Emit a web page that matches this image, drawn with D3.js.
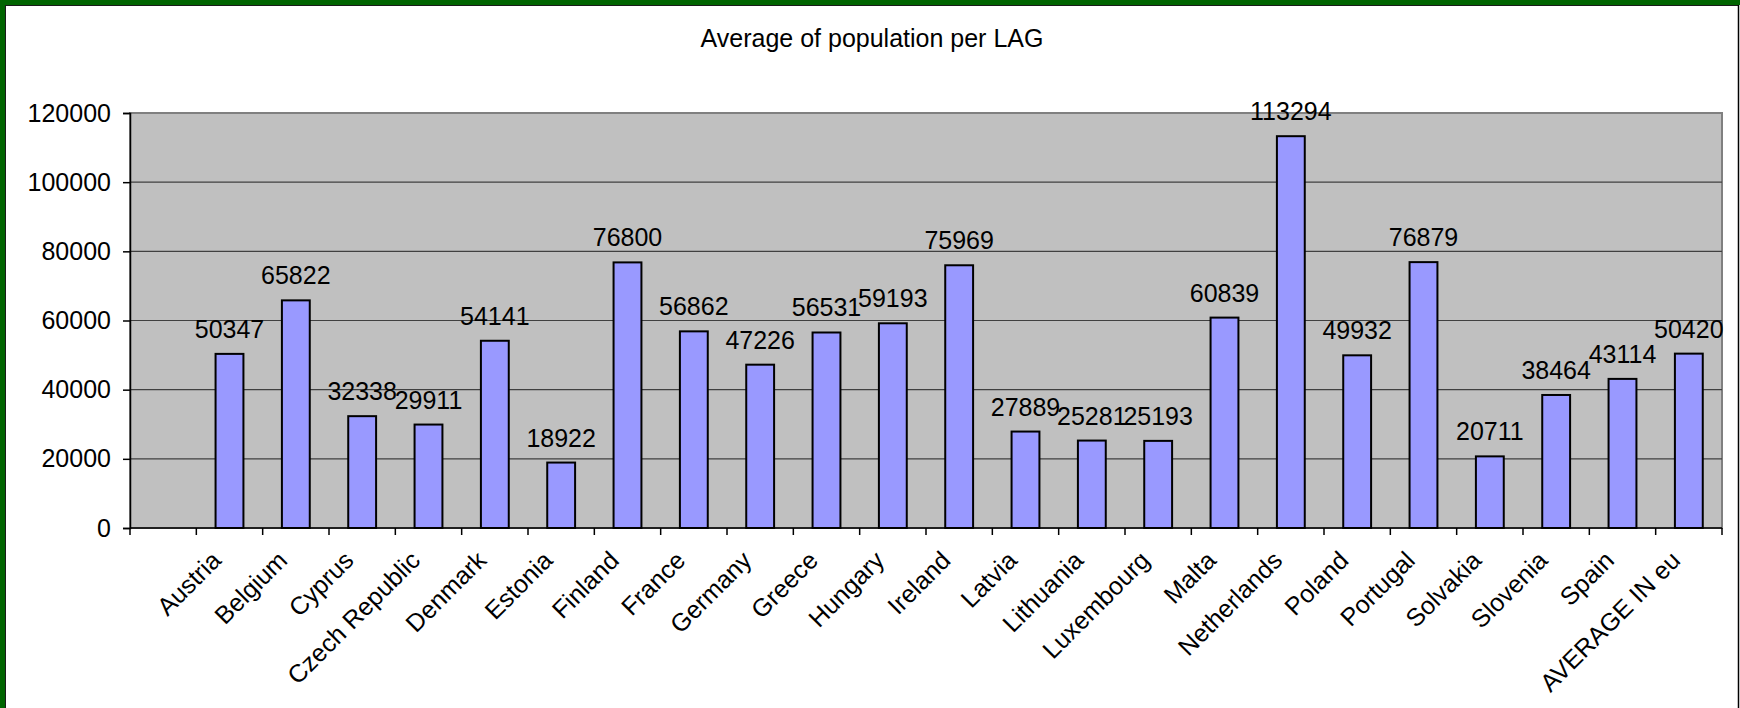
<!DOCTYPE html>
<html><head><meta charset="utf-8">
<script src="https://cdn.jsdelivr.net/npm/d3@7"></script>
<style>html,body{margin:0;padding:0;background:#fff;}svg{display:block;font-family:"Liberation Sans",Arial,sans-serif;}</style>
</head><body>
<svg id="c" width="1740" height="708"></svg>
<script>
const title = "Average of population per LAG";
const categories = ["", "Austria","Belgium","Cyprus","Czech Republic","Denmark","Estonia","Finland","France","Germany","Greece","Hungary","Ireland","Latvia","Lithuania","Luxembourg","Malta","Netherlands","Poland","Portugal","Solvakia","Slovenia","Spain","AVERAGE IN eu"];
const values = [null, 50347,65822,32338,29911,54141,18922,76800,56862,47226,56531,59193,75969,27889,25281,25193,60839,113294,49932,76879,20711,38464,43114,50420];
const yTicks = [0,20000,40000,60000,80000,100000,120000];

const W = 1740, H = 708;
const m = {left:130, right:1722, top:113, bottom:528};
const svg = d3.select("#c");
const fs = 25;

// frame
svg.append("rect").attr("x",0).attr("y",0).attr("width",W).attr("height",H).attr("fill","#fff");
svg.append("rect").attr("x",0).attr("y",0).attr("width",W).attr("height",5).attr("fill","#006400");
svg.append("rect").attr("x",0).attr("y",0).attr("width",5).attr("height",H).attr("fill","#006400");
svg.append("line").attr("x1",5).attr("x2",1739).attr("y1",5.5).attr("y2",5.5).attr("stroke","#1a1a1a").attr("stroke-width",1);
svg.append("line").attr("x1",5.5).attr("x2",5.5).attr("y1",5).attr("y2",H).attr("stroke","#1a1a1a").attr("stroke-width",1);
svg.append("line").attr("x1",1738.5).attr("x2",1738.5).attr("y1",5).attr("y2",H).attr("stroke","#000").attr("stroke-width",1.5);

const slot = d3.scaleBand().domain(categories.map((d,i)=>i)).range([m.left,m.right]);
const y = d3.scaleLinear().domain([0,120000]).range([m.bottom,m.top]);
const barW = slot.bandwidth()*0.42;

// plot area
svg.append("rect").attr("x",m.left).attr("y",m.top).attr("width",m.right-m.left).attr("height",m.bottom-m.top)
  .attr("fill","#c0c0c0").attr("stroke","#808080").attr("stroke-width",2);

// gridlines
svg.append("g").selectAll("line").data(yTicks.filter(d=>d>0 && d<120000)).join("line")
  .attr("x1",m.left).attr("x2",m.right).attr("y1",d=>y(d)).attr("y2",d=>y(d))
  .attr("stroke","#404040").attr("stroke-width",1.2);

// bars
const data = categories.map((c,i)=>({c,i,v:values[i]})).filter(d=>d.v!=null);
svg.append("g").selectAll("rect").data(data).join("rect")
  .attr("x",d=>slot(d.i)+slot.bandwidth()/2-barW/2).attr("width",barW)
  .attr("y",d=>y(d.v)).attr("height",d=>y(0)-y(d.v))
  .attr("fill","#9999ff").attr("stroke","#000").attr("stroke-width",2);

// data labels
svg.append("g").selectAll("text").data(data).join("text")
  .attr("x",d=>slot(d.i)+slot.bandwidth()/2).attr("y",d=>y(d.v)-16)
  .attr("text-anchor","middle").attr("font-size",fs).attr("fill","#000").text(d=>d.v);

// y axis
const ya = svg.append("g").attr("transform",`translate(${m.left},0)`)
  .call(d3.axisLeft(y).tickValues(yTicks).tickSize(7).tickPadding(12).tickFormat(d3.format("d")));
ya.select(".domain").attr("stroke","#000").attr("stroke-width",1.5);
ya.selectAll(".tick line").attr("stroke","#000").attr("stroke-width",1.5);
ya.selectAll(".tick text").attr("font-size",fs).attr("font-family",null).attr("fill","#000");

// x axis line and ticks at slot boundaries
svg.append("line").attr("x1",m.left).attr("x2",m.right).attr("y1",m.bottom).attr("y2",m.bottom).attr("stroke","#000").attr("stroke-width",1.5);
const bounds = categories.map((d,i)=>slot(i)).concat([m.right]);
svg.append("g").selectAll("line").data(bounds).join("line")
  .attr("x1",d=>d).attr("x2",d=>d).attr("y1",m.bottom).attr("y2",m.bottom+7)
  .attr("stroke","#000").attr("stroke-width",1.5);

// category labels
svg.append("g").selectAll("text").data(data).join("text")
  .attr("text-anchor","end").attr("font-size",fs).attr("fill","#000")
  .attr("transform",d=>`translate(${slot(d.i)+slot.bandwidth()/2-7},${m.bottom+34}) rotate(-45)`)
  .text(d=>d.c);

// title
svg.append("text").attr("x",872).attr("y",47).attr("text-anchor","middle").attr("font-size",fs).attr("fill","#000").text(title);
</script>
</body></html>
